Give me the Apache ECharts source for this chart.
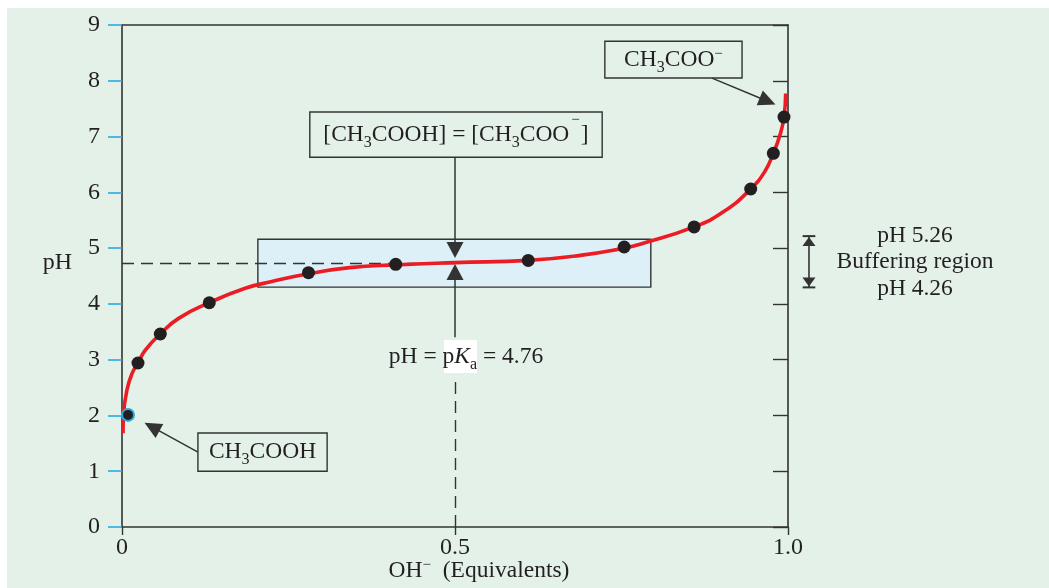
<!DOCTYPE html>
<html><head><meta charset="utf-8">
<script src="https://cdn.jsdelivr.net/npm/echarts@6/dist/echarts.min.js"></script>
<style>
html,body{margin:0;padding:0;background:#ffffff;}
#bg{position:absolute;left:7px;top:8px;width:1042px;height:580px;background:#e3f1e8;}
#main{position:absolute;left:0;top:0;width:1049px;height:588px;}
</style></head><body>
<div id="bg"></div><div id="main"></div>
<script>
// ---- data ----
const xTickLabels = ['0', '0.5', '1.0'];
const curveX = [0.0015, 0.0025, 0.0075, 0.015, 0.024, 0.035, 0.0575, 0.085, 0.131, 0.185, 0.225, 0.28, 0.342, 0.411, 0.5, 0.61, 0.688, 0.754, 0.778, 0.859, 0.903, 0.944, 0.965, 0.978, 0.988, 0.994, 0.9965];
const curveY = [1.68, 2.04, 2.46, 2.75, 2.94, 3.17, 3.46, 3.74, 4.02, 4.28, 4.40, 4.54, 4.65, 4.70, 4.74, 4.78, 4.87, 5.00, 5.07, 5.38, 5.65, 6.06, 6.37, 6.70, 7.03, 7.35, 7.77];
const pointX = [0.009, 0.024, 0.0575, 0.131, 0.280, 0.411, 0.610, 0.754, 0.859, 0.944, 0.978, 0.994];
const pointY = [2.01, 2.94, 3.46, 4.02, 4.56, 4.71, 4.78, 5.02, 5.38, 6.06, 6.70, 7.35];
const pKaLine = 4.73;          // dashed guide drawn in the picture
const bufferLow = 4.30, bufferHigh = 5.16;   // drawn buffer box (pH)
const bufferFrom = 0.204, bufferTo = 0.794;
const bufferText = ['pH 5.26', 'Buffering region', 'pH 4.26'];

const F = "'Liberation Serif','Times New Roman',serif";
const C = '#231f20';
const LINE = '#333333';

const rich = {
  n: {fontFamily: F, fontSize: 23.5, color: C, verticalAlign: 'middle'},
  i: {fontFamily: F, fontSize: 23.5, color: C, fontStyle: 'italic', verticalAlign: 'middle'},
  s: {fontFamily: F, fontSize: 16, color: C, verticalAlign: 'middle', padding: [16, 0, 0, 0]},
  sup: {fontFamily: F, fontSize: 15, color: C, verticalAlign: 'middle', padding: [0, 0, 11, 0]},
  supHi: {fontFamily: F, fontSize: 15, color: C, verticalAlign: 'middle', padding: [0, 1, 30, 2]}
};

const chart = echarts.init(document.getElementById('main'), null, {renderer: 'canvas'});

function boxArea(x1, y1, x2, y2, text) {
  return [
    {coord: [x1, y1], itemStyle: {color: 'rgba(0,0,0,0)', borderColor: LINE, borderWidth: 1.4},
     label: {show: true, position: 'inside', formatter: () => text, rich: rich}},
    {coord: [x2, y2]}
  ];
}
function seg(a, b, opts) {
  opts = opts || {};
  return [
    {coord: a, symbol: opts.s0 || 'none', symbolSize: opts.size0 || 0,
      lineStyle: {color: LINE, width: opts.w || 1.5, type: opts.type || 'solid'}},
    {coord: b, symbol: opts.s1 || 'none', symbolSize: opts.size1 || 0}
  ];
}

const option = {
  animation: false,
  backgroundColor: 'transparent',
  grid: {left: 122, right: 261, top: 25, bottom: 61, containLabel: false, outerBoundsMode: 'none'},
  xAxis: [
    {type: 'value', min: 0, max: 1, interval: 0.5, position: 'bottom',
     axisLine: {show: true, onZero: false, lineStyle: {color: LINE, width: 1.6}},
     axisTick: {show: true, length: 8, lineStyle: {color: LINE, width: 1.4}},
     axisLabel: {fontFamily: F, fontSize: 24, color: C, margin: 9,
       formatter: v => xTickLabels[Math.round(v / 0.5)]},
     splitLine: {show: false},
     name: '{n|OH}{sup|\u2212}{n|  (Equivalents)}',
     nameLocation: 'middle', nameGap: 31, nameMoveOverlap: false,
     nameTextStyle: {rich: rich, padding: [0, 0, 0, 48]}},
    {type: 'value', min: 0, max: 1, interval: 0.5, position: 'top',
     axisLine: {show: true, onZero: false, lineStyle: {color: LINE, width: 1.6}},
     axisTick: {show: false}, axisLabel: {show: false}, splitLine: {show: false}}
  ],
  yAxis: [
    {type: 'value', min: 0, max: 9, interval: 1, position: 'left',
     axisLine: {show: true, onZero: false, lineStyle: {color: LINE, width: 1.6}},
     axisTick: {show: true, length: 14, lineStyle: {color: '#29abe2', width: 1.6}},
     axisLabel: {fontFamily: F, fontSize: 24, color: C, margin: 22},
     splitLine: {show: false},
     name: 'pH', nameLocation: 'middle', nameGap: 50, nameRotate: 0,
     nameTextStyle: {fontFamily: F, fontSize: 24, color: C, verticalAlign: 'bottom', lineHeight: 26}},
    {type: 'value', min: 0, max: 9, interval: 1, position: 'right',
     axisLine: {show: true, onZero: false, lineStyle: {color: LINE, width: 1.6}},
     axisTick: {show: true, inside: true, length: 15, lineStyle: {color: LINE, width: 1.4}},
     axisLabel: {show: false}, splitLine: {show: false}}
  ],
  series: [
    {
      name: 'annotations', type: 'line', data: [], clip: false, silent: true,
      markArea: {
        silent: true, z: 1,
        data: [
          [{coord: [bufferFrom, bufferHigh], itemStyle: {color: '#ddf0f7', borderColor: LINE, borderWidth: 1.4}, label: {show: false}},
           {coord: [bufferTo, bufferLow]}],
          boxArea(0.282, 7.44, 0.721, 6.63, '{n|[CH}{s|3}{n|COOH] = [CH}{s|3}{n|COO}{supHi|\u2212}{n|]}'),
          boxArea(0.725, 8.71, 0.931, 8.05, '{n|CH}{s|3}{n|COO}{sup|\u2212}'),
          boxArea(0.114, 1.685, 0.308, 1.00, '{n|CH}{s|3}{n|COOH}'),
          [{coord: [0.4835, 3.351], itemStyle: {color: '#ffffff', borderWidth: 0}, label: {show: false}},
           {coord: [0.533, 2.760]}]
        ]
      },
      markLine: {
        silent: true, z: 2, symbol: 'none', label: {show: false}, emphasis: {disabled: true},
        data: [
          seg([0, pKaLine], [0.5, pKaLine], {type: [12, 7], w: 1.4}),
          seg([0.5, 0], [0.5, 2.69], {type: [12, 7], w: 1.4}),
          seg([0.5, 6.63], [0.5, 4.964], {s1: 'triangle', size1: [17, 16]}),
          seg([0.5, 3.40], [0.5, 4.57], {s1: 'triangle', size1: [17, 16]}),
          seg([0.8859, 8.047], [0.9694, 7.634], {s1: 'triangle', size1: [16, 17]}),
          seg([0.1141, 1.344], [0.045, 1.796], {s1: 'triangle', size1: [16, 17]})
        ]
      },
      markPoint: {
        silent: true, z: 5, symbol: 'circle', symbolSize: 0,
        data: [
          {coord: [0.5165, 3.047], label: {show: true, position: 'inside',
            formatter: () => '{n|pH = p}{i|K}{s|a}{n| = 4.76}', rich: rich}}
        ]
      }
    },
    {
      name: 'curve', type: 'line', z: 3, smooth: 0.5,
      showSymbol: false, symbol: 'none', silent: true,
      lineStyle: {color: '#ec1c24', width: 3.6},
      data: curveX.map((x, i) => [x, curveY[i]])
    },
    {
      name: 'points', type: 'scatter', z: 4, silent: true, symbolSize: 13,
      itemStyle: {color: C, opacity: 1},
      data: pointX.map((x, i) => i === 0
        ? {value: [x, pointY[i]], symbolSize: 12, itemStyle: {color: C, opacity: 1, borderColor: '#29abe2', borderWidth: 2}}
        : [x, pointY[i]])
    }
  ]
};
chart.setOption(option);

// Buffering-region annotation to the right of the plot, placed through the axes' scales.
const P = (x, y) => chart.convertToPixel({gridIndex: 0}, [x, y]);
const arrTop = P(1.0315, 5.215), arrBot = P(1.0315, 4.296);
const bl1 = P(1.022, 5.215), br1 = P(1.041, 5.215);
const bl2 = P(1.022, 4.296), br2 = P(1.041, 4.296);
const txtPos = P(1.1907, 4.749);
chart.setOption({
  graphic: [
    {type: 'line', silent: true, shape: {x1: bl1[0], y1: bl1[1], x2: br1[0], y2: br1[1]}, style: {stroke: LINE, lineWidth: 2}},
    {type: 'line', silent: true, shape: {x1: bl2[0], y1: bl2[1], x2: br2[0], y2: br2[1]}, style: {stroke: LINE, lineWidth: 2}},
    {type: 'line', silent: true, shape: {x1: arrTop[0], y1: arrTop[1], x2: arrBot[0], y2: arrBot[1]}, style: {stroke: LINE, lineWidth: 1.6}},
    {type: 'polygon', silent: true, shape: {points: [[arrTop[0], arrTop[1] + 1], [arrTop[0] - 6.5, arrTop[1] + 10], [arrTop[0] + 6.5, arrTop[1] + 10]]}, style: {fill: LINE}},
    {type: 'polygon', silent: true, shape: {points: [[arrBot[0], arrBot[1] - 1], [arrBot[0] - 6.5, arrBot[1] - 10], [arrBot[0] + 6.5, arrBot[1] - 10]]}, style: {fill: LINE}},
    {type: 'text', silent: true, x: txtPos[0], y: txtPos[1],
     style: {text: bufferText.join('\n'), fontFamily: F, fontSize: 23.5, fill: C, lineHeight: 26.5, align: 'center', verticalAlign: 'middle'}}
  ]
});
</script>
</body></html>
